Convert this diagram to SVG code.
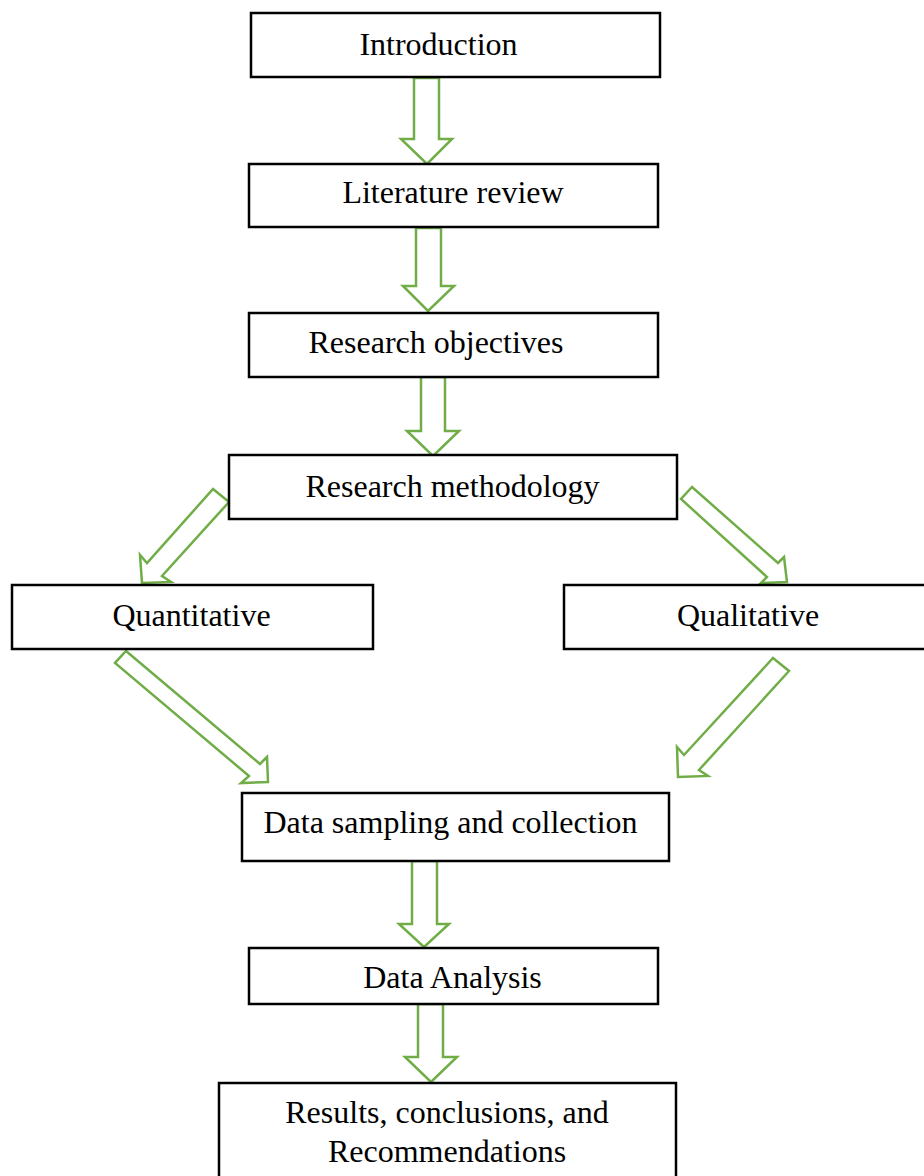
<svg xmlns="http://www.w3.org/2000/svg" width="924" height="1176" viewBox="0 0 924 1176">
<style>
.box{fill:#fff;stroke:#000;stroke-width:2.5}
.lbl{font-family:"Liberation Serif","Times New Roman",serif;font-size:32px;fill:#000;text-anchor:middle}
.arr{fill:#fff;stroke:#70AD47;stroke-width:2.5;stroke-linejoin:miter}
</style>
<rect width="924" height="1176" fill="#fff"/>
<g id="connectors">
<polygon class="arr" points="414,78 439,78 439,139 452,139 427,164 401,139 414,139"/>
<polygon class="arr" points="416,228 441,228 441,286 454,286 428,311 403,286 416,286"/>
<polygon class="arr" points="421,377 445,377 445,431 459,431 433,456 407,431 421,431"/>
<polygon class="arr" points="213,489 229,502 162,576 171,582 142,583 140,555 147,563"/>
<polygon class="arr" points="692,487 681,499 767,577 761,583 787,582 784,557 778,563"/>
<polygon class="arr" points="126,651 260,764 267,757 268,782 241,783 249,776 115,663"/>
<polygon class="arr" points="773,658 789,671 699,770 708,776 678,777 677,747 684,755"/>
<polygon class="arr" points="412,861 437,861 437,924 449,924 424,947 399,924 412,924"/>
<polygon class="arr" points="418,1004 443,1004 443,1057 457,1057 431,1082 405,1057 418,1057"/>
</g>
<g id="n-introduction">
<rect class="box" x="251" y="13" width="409" height="64"/>
<text class="lbl" x="438.5" y="55">Introduction</text>
</g>
<g id="n-literature">
<rect class="box" x="249" y="164" width="409" height="63"/>
<text class="lbl" x="453" y="203">Literature review</text>
</g>
<g id="n-objectives">
<rect class="box" x="249" y="313" width="409" height="64"/>
<text class="lbl" x="436" y="353">Research objectives</text>
</g>
<g id="n-methodology">
<rect class="box" x="229" y="455" width="448" height="64"/>
<text class="lbl" x="452.5" y="497">Research methodology</text>
</g>
<g id="n-quantitative">
<rect class="box" x="12" y="585" width="361" height="64"/>
<text class="lbl" x="191.5" y="626">Quantitative</text>
</g>
<g id="n-qualitative">
<rect class="box" x="564" y="585" width="370" height="64"/>
<text class="lbl" x="748" y="626">Qualitative</text>
</g>
<g id="n-sampling">
<rect class="box" x="242" y="793" width="427" height="68"/>
<text class="lbl" x="450.5" y="833">Data sampling and collection</text>
</g>
<g id="n-analysis">
<rect class="box" x="249" y="948" width="409" height="56"/>
<text class="lbl" x="452.5" y="988">Data Analysis</text>
</g>
<g id="n-results">
<rect class="box" x="219" y="1083" width="457" height="110"/>
<text class="lbl" x="447" y="1123">Results, conclusions, and</text>
<text class="lbl" x="447" y="1162">Recommendations</text>
</g>
</svg>
